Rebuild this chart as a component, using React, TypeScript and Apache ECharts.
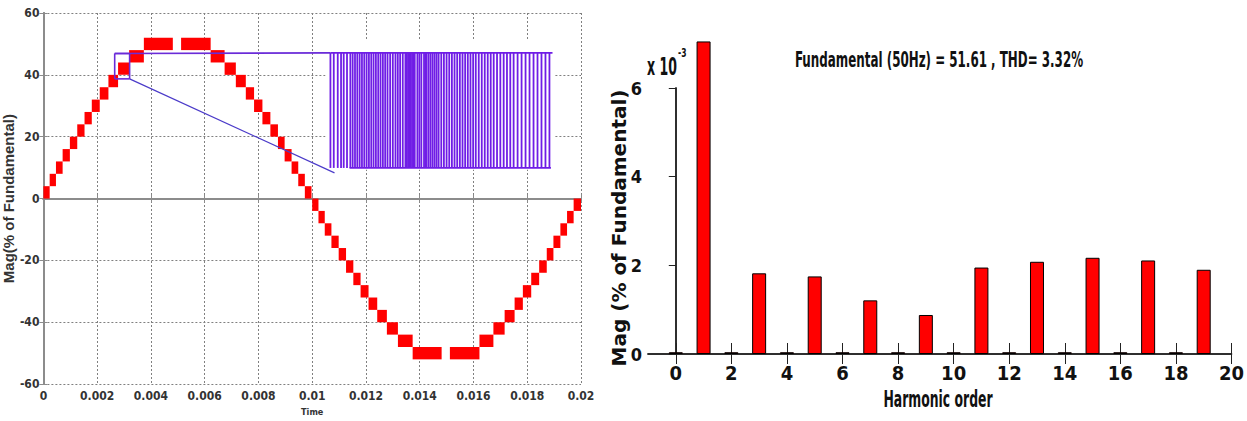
import React, { useEffect, useRef } from "react";
import * as echarts from "echarts";

// ---------- Left panel: staircase output (time in ms, magnitude in %) ----------
const stepStartMs = [
  0, 0.233, 0.467, 0.715, 0.985, 1.259, 1.53, 1.8, 2.096, 2.419, 2.778, 3.189, 3.737,
  5.122, 6.222, 6.741, 7.159, 7.53, 7.837, 8.148, 8.444, 8.726, 8.974, 9.233, 9.481, 9.726,
  10.0, 10.233, 10.467, 10.715, 10.985, 11.259, 11.53, 11.8, 12.096, 12.419, 12.778, 13.189, 13.737,
  15.122, 16.222, 16.741, 17.159, 17.53, 17.837, 18.148, 18.444, 18.726, 18.974, 19.233, 19.481, 19.726,
];
const stepEndMs = [
  0.233, 0.467, 0.715, 0.985, 1.259, 1.53, 1.8, 2.096, 2.419, 2.778, 3.189, 3.737, 4.815,
  6.222, 6.741, 7.159, 7.53, 7.837, 8.148, 8.444, 8.726, 8.974, 9.233, 9.481, 9.726, 9.974,
  10.233, 10.467, 10.715, 10.985, 11.259, 11.53, 11.8, 12.096, 12.419, 12.778, 13.189, 13.737, 14.815,
  16.222, 16.741, 17.159, 17.53, 17.837, 18.148, 18.444, 18.726, 18.974, 19.233, 19.481, 19.726, 20.0,
];
const stepLowPct = [
  0, 4, 8, 12, 16, 20, 24, 28, 32, 36, 40, 44, 48,
  48, 44, 40, 36, 32, 28, 24, 20, 16, 12, 8, 4, 0,
  -4, -8, -12, -16, -20, -24, -28, -32, -36, -40, -44, -48, -52,
  -52, -48, -44, -40, -36, -32, -28, -24, -20, -16, -12, -8, -4,
];
const stepHighPct = [
  4, 8, 12, 16, 20, 24, 28, 32, 36, 40, 44, 48, 52,
  52, 48, 44, 40, 36, 32, 28, 24, 20, 16, 12, 8, 4,
  0, -4, -8, -12, -16, -20, -24, -28, -32, -36, -40, -44, -48,
  -48, -44, -40, -36, -32, -28, -24, -20, -16, -12, -8, -4, 0,
];

// zoom box and inset (PWM detail)
const zoomBoxMs = [2.652, 3.207];
const zoomBoxPct = [38.7, 46.9];
const insetAreaMs = [10.5, 19.0];
const insetAreaPct = [9.3, 51.4];
const pwmHighPct = 47.1;
const pwmLowPct = 9.9;
const pwmTopSpanMs = [10.678, 18.94];
const pwmBottomSpanMs = [11.39, 18.88];
const connectorEndMs = 10.83;
const connectorEndPct = 8.3;
const pwmPulseMs = [
  10.678, 10.802, 10.95, 11.073, 11.172, 11.295, 11.419, 11.505, 11.592, 11.678, 11.765, 11.851,
  11.937, 12.024, 12.11, 12.197, 12.283, 12.369, 12.456, 12.542, 12.629, 12.715, 12.802, 12.9,
  12.999, 13.098, 13.184, 13.271, 13.369, 13.468, 13.518, 13.567, 13.616, 13.666, 13.715, 13.764,
  13.814, 13.913, 13.987, 14.061, 14.16, 14.209, 14.258, 14.332, 14.406, 14.481, 14.555, 14.629,
  14.703, 14.802, 14.9, 14.999, 15.098, 15.197, 15.295, 15.394, 15.493, 15.592, 15.69, 15.789,
  15.888, 15.987, 16.085, 16.196, 16.308, 16.419, 16.53, 16.641, 16.752, 16.876, 16.999, 17.123,
  17.246, 17.369, 17.493, 17.641, 17.789, 17.937, 18.085, 18.234, 18.382, 18.53, 18.678, 18.826,
];

// ---------- Right panel: harmonic spectrum ----------
const harmonicOrder = [0, 1, 2, 3, 4, 5, 6, 7, 8, 9, 10, 11, 12, 13, 14, 15, 16, 17, 18, 19];
const harmonicMag = [
  0.04, 7.05, 0.04, 1.82, 0.04, 1.75, 0.04, 1.21, 0.04, 0.88,
  0.04, 1.95, 0.04, 2.08, 0.04, 2.17, 0.04, 2.11, 0.04, 1.9,
];
const harmonicTicks = [0, 2, 4, 6, 8, 10, 12, 14, 16, 18, 20];
const titleText = "Fundamental (50Hz) = 51.61 , THD= 3.32%";

const NARROW = "'Liberation Sans Narrow', 'Arial Narrow', 'DejaVu Sans Condensed', 'Liberation Sans', sans-serif";

export default function App() {
  const ref = useRef<HTMLDivElement>(null);

  useEffect(() => {
    if (!ref.current) return;
    const chart = echarts.init(ref.current, null, { renderer: "svg" });

    const rects = stepStartMs.map((s, i) => [s / 1000, stepEndMs[i] / 1000, stepLowPct[i], stepHighPct[i]]);
    const rectRender = (fill: string) => (params: any, api: any) => {
      const p0 = api.coord([api.value(0), api.value(3)]);
      const p1 = api.coord([api.value(1), api.value(2)]);
      return {
        type: "rect",
        shape: { x: p0[0], y: p0[1], width: p1[0] - p0[0], height: p1[1] - p0[1] },
        style: { fill },
      };
    };
    const segRender = (stroke: string, lineWidth: number) => (params: any, api: any) => {
      const a = api.coord([api.value(0), api.value(1)]);
      const b = api.coord([api.value(2), api.value(3)]);
      return {
        type: "line",
        shape: { x1: a[0], y1: a[1], x2: b[0], y2: b[1] },
        style: { stroke, lineWidth },
      };
    };

    const pulses = pwmPulseMs.map((t) => [t / 1000, pwmLowPct, t / 1000, pwmHighPct]);
    const pwmRails = [
      [pwmTopSpanMs[0] / 1000, pwmHighPct, pwmTopSpanMs[1] / 1000, pwmHighPct],
      [pwmBottomSpanMs[0] / 1000, pwmLowPct, pwmBottomSpanMs[1] / 1000, pwmLowPct],
    ];
    const b0 = zoomBoxMs[0] / 1000, b1 = zoomBoxMs[1] / 1000;
    const boxSegs = [
      [b0, zoomBoxPct[1], b1, zoomBoxPct[1]],
      [b0, zoomBoxPct[0], b1, zoomBoxPct[0]],
      [b0, zoomBoxPct[0], b0, zoomBoxPct[1]],
      [b1, zoomBoxPct[0], b1, zoomBoxPct[1]],
      [b0, zoomBoxPct[1], pwmTopSpanMs[0] / 1000, pwmHighPct],
    ];
    const diagSegs = [[b1, zoomBoxPct[0], connectorEndMs / 1000, connectorEndPct]];

    const leftAxisColor = "#8c8c8c";
    const leftLabel = { fontFamily: NARROW, fontWeight: "bold" as const, fontSize: 12, color: "#333" };

    const option: any = {
      animation: false,
      backgroundColor: "#fff",
      grid: [
        { left: 42, top: 13, width: 539, height: 376 },
        { left: 648, top: 88, width: 585, height: 266 },
      ],
      xAxis: [
        {
          gridIndex: 0, type: "value", min: 0, max: 0.02, interval: 0.002,
          name: "Time", nameLocation: "middle", nameGap: 22,
          nameTextStyle: { fontFamily: NARROW, fontWeight: "bold", fontSize: 9, color: "#333" },
          axisLine: { lineStyle: { color: leftAxisColor, width: 2 } },
          axisTick: { inside: true, length: 4, lineStyle: { color: leftAxisColor } },
          axisLabel: { ...leftLabel, margin: 6, formatter: (v: number) => String(+v.toFixed(3)) },
          splitLine: { show: true, lineStyle: { color: "#808080", type: [2, 2], width: 1 } },
        },
        {
          gridIndex: 0, type: "value", min: 0, max: 0.02, interval: 0.002, position: "top",
          axisLine: { lineStyle: { color: leftAxisColor, width: 2 } },
          axisTick: { inside: true, length: 4, lineStyle: { color: leftAxisColor } },
          axisLabel: { show: false }, splitLine: { show: false },
        },
        {
          gridIndex: 1, type: "value", min: -1, max: 20,
          axisLine: { lineStyle: { color: "#222", width: 1.5 } },
          axisTick: { inside: true, length: 11, customValues: harmonicTicks, lineStyle: { color: "#222" } },
          axisLabel: { customValues: harmonicTicks, fontFamily: NARROW, fontWeight: "bold", fontSize: 20, color: "#111", margin: 9 },
          splitLine: { show: false },
        },
        {
          gridIndex: 1, type: "value", min: -1, max: 20, position: "top",
          axisLine: { lineStyle: { color: "#222", width: 1.5 } },
          axisTick: { inside: true, length: 10, customValues: harmonicTicks, lineStyle: { color: "#222" } },
          axisLabel: { show: false }, splitLine: { show: false },
        },
      ],
      yAxis: [
        {
          gridIndex: 0, type: "value", min: -60, max: 60, interval: 20,
          name: "Mag(% of Fundamental)", nameLocation: "middle", nameGap: 22, nameRotate: 90,
          nameTextStyle: { fontFamily: "'Liberation Sans', sans-serif", fontWeight: "bold", fontSize: 15, color: "#333" },
          axisLine: { lineStyle: { color: leftAxisColor, width: 2 } },
          axisTick: { inside: true, length: 4, lineStyle: { color: leftAxisColor } },
          axisLabel: { ...leftLabel, margin: 4 },
          splitLine: { show: true, lineStyle: { color: "#808080", type: [2, 2], width: 1 } },
        },
        {
          gridIndex: 0, type: "value", min: -60, max: 60, interval: 20, position: "right",
          axisLine: { lineStyle: { color: leftAxisColor, width: 2 } },
          axisTick: { inside: true, length: 4, lineStyle: { color: leftAxisColor } },
          axisLabel: { show: false }, splitLine: { show: false },
        },
        {
          gridIndex: 1, type: "value", min: 0, max: 6, interval: 2,
          axisLine: { lineStyle: { color: "#222", width: 1.5 } },
          axisTick: { inside: false, length: 5, lineStyle: { color: "#222" } },
          axisLabel: { fontFamily: NARROW, fontWeight: "bold", fontSize: 18, color: "#111", margin: 6 },
          splitLine: { show: false },
        },
        {
          gridIndex: 1, type: "value", min: 0, max: 6, interval: 2, position: "right",
          axisLine: { lineStyle: { color: "#222", width: 1.5 } },
          axisTick: { inside: true, length: 7, lineStyle: { color: "#222" } },
          axisLabel: { show: false }, splitLine: { show: false },
        },
      ],
      series: [
        {
          type: "custom", xAxisIndex: 0, yAxisIndex: 0, z: 3,
          renderItem: rectRender("#ff0000"),
          encode: { x: [0, 1], y: [2, 3] },
          data: rects,
        },
        {
          type: "custom", xAxisIndex: 0, yAxisIndex: 0, z: 4,
          renderItem: rectRender("#ffffff"),
          encode: { x: [0, 1], y: [2, 3] },
          data: [[insetAreaMs[0] / 1000, insetAreaMs[1] / 1000, insetAreaPct[0], insetAreaPct[1]]],
        },
        {
          type: "custom", xAxisIndex: 0, yAxisIndex: 0, z: 5,
          renderItem: segRender("#6f1de6", 1.8),
          encode: { x: [0, 2], y: [1, 3] },
          data: pulses.concat(pwmRails),
        },
        {
          type: "custom", xAxisIndex: 0, yAxisIndex: 0, z: 6,
          renderItem: segRender("#6a2bd8", 1.6),
          encode: { x: [0, 2], y: [1, 3] },
          data: boxSegs,
        },
        {
          type: "custom", xAxisIndex: 0, yAxisIndex: 0, z: 6,
          renderItem: segRender("#4b3bc9", 1.2),
          encode: { x: [0, 2], y: [1, 3] },
          data: diagSegs,
        },
        {
          type: "bar", xAxisIndex: 2, yAxisIndex: 2, barWidth: 14, clip: false,
          itemStyle: { color: "#ff0000", borderColor: "#000", borderWidth: 1 },
          data: harmonicOrder.map((h, i) => [h, harmonicMag[i]]),
        },
      ],
      graphic: [
        {
          type: "text", x: 939, y: 60, scaleX: 0.63,
          style: { text: titleText, align: "center", verticalAlign: "middle", fontFamily: NARROW, fontWeight: "bold", fontSize: 21, fill: "#111" },
        },
        {
          type: "text", x: 647, y: 67, scaleX: 0.58,
          style: { text: "x 10", align: "left", verticalAlign: "middle", fontFamily: NARROW, fontWeight: "bold", fontSize: 24, fill: "#111" },
        },
        {
          type: "text", x: 678, y: 53, scaleX: 0.65,
          style: { text: "-3", align: "left", verticalAlign: "middle", fontFamily: NARROW, fontWeight: "bold", fontSize: 13, fill: "#111" },
        },
        {
          type: "text", x: 938, y: 399, scaleX: 0.6,
          style: { text: "Harmonic order", align: "center", verticalAlign: "middle", fontFamily: NARROW, fontWeight: "bold", fontSize: 23, fill: "#111" },
        },
        {
          type: "text", x: 619, y: 228, rotation: Math.PI / 2,
          style: { text: "Mag (% of Fundamental)", align: "center", verticalAlign: "middle", fontFamily: "'DejaVu Sans', sans-serif", fontWeight: "bold", fontSize: 20, fill: "#111" },
        },
      ],
    };

    chart.setOption(option);
    return () => chart.dispose();
  }, []);

  return (
    <div
      ref={ref}
      style={{ position: "absolute", left: 0, top: 0, width: 1247, height: 421, background: "#fff" }}
    />
  );
}
